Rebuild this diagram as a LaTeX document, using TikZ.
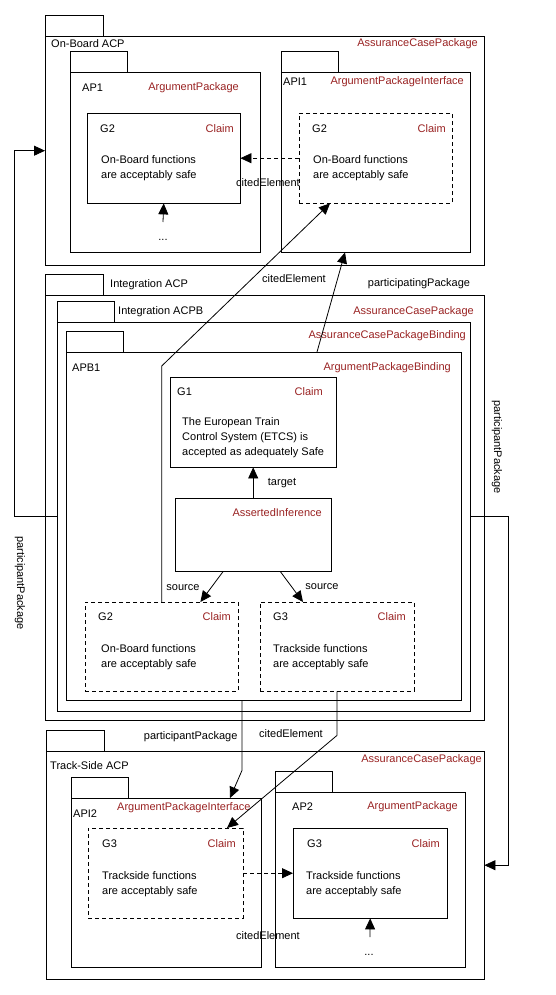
\documentclass[tikz,border=0pt]{standalone}
\usepackage{fontspec}
\setmainfont{Liberation Sans}
\usepackage{xcolor}
\definecolor{Type Red}{HTML}{992222}
\colorlet{cType}{Type Red}
\usetikzlibrary{calc, arrows.meta, positioning}
\tikzset{
	x=1pt, y=-1pt,
	line width=.8pt,
	>={Triangle[length=11pt,width=10pt]},
	font=\fontsize{11}{15}\selectfont,
	pkg/.style={
		draw,
		rectangle,
		anchor=north west,
		inner sep=0pt
	},
	cited/.style={
		pkg,
		dash pattern=on 4pt off 3pt
	},
	typelbl/.style={
		text=cType,
		anchor=east,
		inner sep=0pt
	},
	namelbl/.style={
		anchor=west,
		inner sep=0pt
	},
	body/.style={
		anchor=west,
		align=left,
		inner sep=0pt
	},
	edge/.style={
		->,
		line width=.8pt
	}
}

\begin{document}
\begin{tikzpicture}
	\useasboundingbox (0,0) rectangle (556,995);

	% On-Board ACP
	\node[pkg, minimum width=439pt, minimum height=229pt] (obacp) at (45,36) {};
	\node[pkg, minimum width=190pt, minimum height=180pt] (ap1) at (70,72) {};
	\node[pkg, minimum width=189pt, minimum height=180pt] (api1) at (281,72) {};
	\node[pkg, minimum width=153pt, minimum height=90pt] (g2a) at (87,113) {};
	\node[cited, minimum width=153pt, minimum height=90pt] (g2b) at (299,113) {};

	\node[namelbl] at (51,44) {On-Board ACP};
	\node[typelbl] at (478,44) {AssuranceCasePackage};
	\node[namelbl] at (82,88) {AP1};
	\node[typelbl] at (239,88) {ArgumentPackage};
	\node[namelbl] at (283,82) {API1};
	\node[typelbl] at (464,82) {ArgumentPackageInterface};
	\node[namelbl] at (100,129) {G2};
	\node[typelbl] at (234,129) {Claim};
	\node[body] at (101,168) {On-Board functions\\are acceptably safe};
	\node[namelbl] at (312,129) {G2};
	\node[typelbl] at (446,129) {Claim};
	\node[body] at (313,168) {On-Board functions\\are acceptably safe};
	\node (dots1) at (163,240) {...};

	% Integration ACP
	\node[pkg, minimum width=439pt, minimum height=425pt] (iacp) at (45,295) {};
	\node[pkg, minimum width=413pt, minimum height=389pt] (iacpb) at (57,322) {};
	\node[pkg, minimum width=395pt, minimum height=348pt] (apb1) at (66,352) {};
	\node[pkg, minimum width=166pt, minimum height=90pt] (g1) at (170,377) {};
	\node[pkg, minimum width=156pt, minimum height=73pt] (ai) at (175,498) {};
	\node[cited, minimum width=153pt, minimum height=89pt] (g2c) at (85,602) {};
	\node[cited, minimum width=154pt, minimum height=89pt] (g3a) at (260,602) {};

	\node[namelbl] at (110,285) {Integration ACP};
	\node[namelbl] at (118,312) {Integration ACPB};
	\node[typelbl] at (474,312) {AssuranceCasePackage};
	\node[typelbl] at (466,336) {AssuranceCasePackageBinding};
	\node[namelbl] at (72,368) {APB1};
	\node[typelbl] at (451,368) {ArgumentPackageBinding};
	\node[namelbl] at (177,392) {G1};
	\node[typelbl] at (323,392) {Claim};
	\node[body] at (182,438) {The European Train\\Control System (ETCS) is\\accepted as adequately Safe};
	\node[typelbl] at (322,513) {AssertedInference};
	\node[namelbl] at (98,617) {G2};
	\node[typelbl] at (231,617) {Claim};
	\node[body] at (101,657) {On-Board functions\\are acceptably safe};
	\node[namelbl] at (273,617) {G3};
	\node[typelbl] at (406,617) {Claim};
	\node[body] at (273,657) {Trackside functions\\are acceptably safe};

	% Track-Side ACP
	\node[pkg, minimum width=438pt, minimum height=228pt] (tsacp) at (46,751) {};
	\node[pkg, minimum width=190pt, minimum height=169pt] (api2) at (71,798) {};
	\node[pkg, minimum width=190pt, minimum height=175pt] (ap2) at (275,792) {};
	\node[cited, minimum width=155pt, minimum height=90pt] (g3b) at (88,828) {};
	\node[pkg, minimum width=154pt, minimum height=90pt] (g3c) at (293,828) {};

	\node[namelbl] at (50,766) {Track-Side ACP};
	\node[typelbl] at (482,760) {AssuranceCasePackage};
	\node[namelbl] at (73,814) {API2};
	\node[namelbl, text=cType] at (117,808) {ArgumentPackageInterface};
	\node[namelbl] at (292,807) {AP2};
	\node[typelbl] at (458,807) {ArgumentPackage};
	\node[namelbl] at (102,844) {G3};
	\node[typelbl] at (236,844) {Claim};
	\node[body] at (102,884) {Trackside functions\\are acceptably safe};
	\node[namelbl] at (307,844) {G3};
	\node[typelbl] at (440,844) {Claim};
	\node[body] at (306,884) {Trackside functions\\are acceptably safe};
	\node (dots2) at (369,955) {...};

	% package tabs
	\foreach \p/\w in {obacp/58, ap1/57, api1/57, iacp/58, iacpb/57, apb1/57, tsacp/58, api2/57, ap2/57}
		\draw (\p.north west) rectangle ++(\w,-21);

	% connectors
	\coordinate (up1) at (163,222);
	\coordinate (up2) at (370,937);
	\draw[edge] (up1) -- (g2a.south);
	\draw[edge] (up2) -- (g3c.south);

	\draw[edge, dash pattern=on 4pt off 3pt] (g2b.west) -- (g2a.east);
	\node at (268,183) {citedElement};
	\draw[edge, dash pattern=on 4pt off 3pt] (g3b.east) -- (g3c.west);
	\node at (268,936) {citedElement};

	\draw[edge] (ai.north) -- (g1.south);
	\node at (282,483) {target};
	\draw[edge] ($(ai.south)+(-30,0)$) -- ($(g2c.north east)+(-38,0)$);
	\node at (183,588) {source};
	\draw[edge] ($(ai.south)+(27,0)$) -- ($(g3a.north west)+(43,0)$);
	\node at (322,587) {source};

	\draw[edge] (g2c.north) -- ++(0,-236) -- ($(g2b.south west)+(31,0)$);
	\node at (294,279) {citedElement};
	\draw[edge] ($(apb1.north west)+(251,0)$) -- ($(api1.south west)+(64,0)$);
	\node at (419,284) {participatingPackage};

	\draw[edge] ($(apb1.south west)+(176,0)$) -- ++(0,70) -- ($(api2.north west)+(159,0)$);
	\node[anchor=east] at (241,737) {participantPackage};
	\draw[edge] ($(g3a.south west)+(77,0)$) -- ++(0,44) -- ($(g3b.north west)+(139,0)$);
	\node at (291,734) {citedElement};

	\draw[edge] (iacpb.west) -- ++(-43,0) |- (obacp.west);
	\node[rotate=-90] at (20,583) {participantPackage};
	\draw[edge] (iacpb.east) -- ++(38,0) |- (tsacp.east);
	\node[rotate=-90] at (497,447) {participantPackage};
\end{tikzpicture}
\end{document}
